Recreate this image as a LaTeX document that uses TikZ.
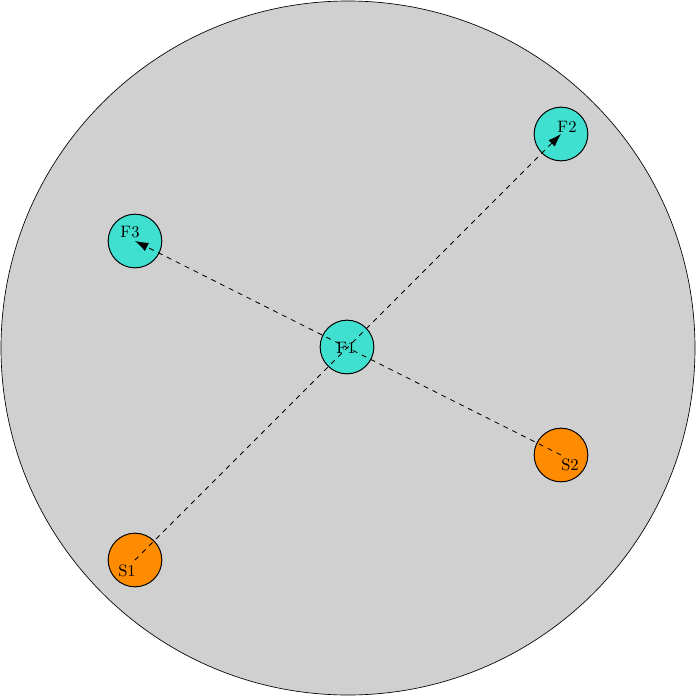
\documentclass[tikz,border=0pt]{standalone}
\usetikzlibrary{arrows.meta}
\definecolor{turq}{HTML}{40E0D0}
\definecolor{dorange}{HTML}{FF8C00}
\definecolor{bggray}{HTML}{D0D0D0}
\begin{document}
\begin{tikzpicture}[x=0.6055pt,y=-0.6055pt,
  ball/.style={circle,draw=black,line width=0.6pt,minimum size=54\pgflinewidth,inner sep=0pt,minimum size=32.5pt},
  fnode/.style={ball,fill=turq},
  snode/.style={ball,fill=dorange},
  lbl/.style={inner sep=0pt,font=\normalsize},
  conn/.style={dashed,line width=0.5pt},
  tip/.style={-{Latex[length=8pt,width=5.5pt]}}]
\useasboundingbox (0,0) rectangle (697,697);
\node[circle,draw=black,fill=bggray,line width=0.4pt,minimum size=694*0.6055pt,inner sep=0pt] (world) at (348,348) {};
\node[fnode] (F1) at (347,347) {};
\node[fnode] (F2) at (561,134) {};
\node[fnode] (F3) at (135,241) {};
\node[snode] (S1) at (135,560) {};
\node[snode] (S2) at (561,455) {};
\node[lbl] (lF1) at (346,348) {F1};
\node[lbl] (lF2) at (567,127) {F2};
\node[lbl] (lF3) at (130,232) {F3};
\node[lbl] (lS1) at (127,571) {S1};
\node[lbl] (lS2) at (570,465) {S2};
\draw[conn,tip] (S1.center) -- (F2.center);
\draw[conn,tip] (S2.center) -- (F3.center);
\end{tikzpicture}
\end{document}
